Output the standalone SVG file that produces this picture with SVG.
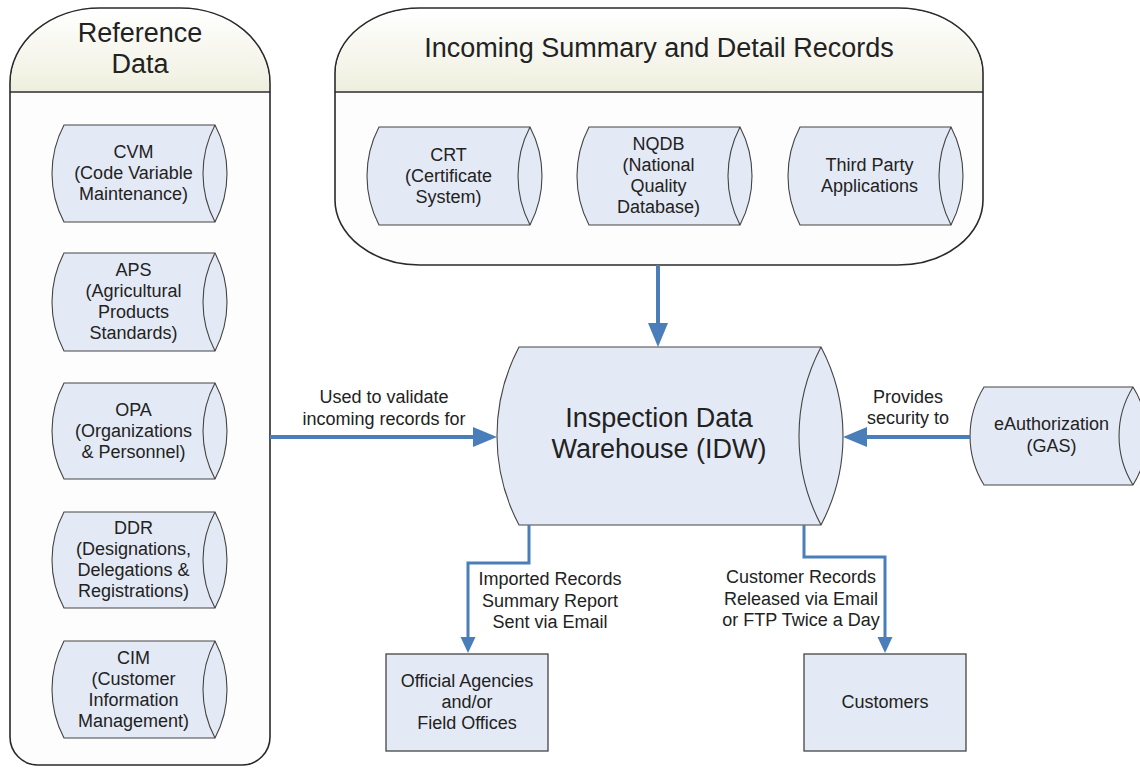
<svg xmlns="http://www.w3.org/2000/svg" width="1140" height="770" viewBox="0 0 1140 770">
<defs>
<linearGradient id="hdr" x1="0" y1="0" x2="0" y2="1">
<stop offset="0" stop-color="#ffffff"/>
<stop offset="1" stop-color="#efefdf"/>
</linearGradient>
<marker id="big" markerUnits="userSpaceOnUse" markerWidth="24" markerHeight="20" refX="12" refY="10" orient="auto">
<path d="M0,0 L24,10 L0,20 Z" fill="#4a7ebb"/>
</marker>
<marker id="small" markerUnits="userSpaceOnUse" markerWidth="16" markerHeight="16" refX="8" refY="8" orient="auto">
<path d="M0,0.5 L16,8 L0,15.5 Z" fill="#4a7ebb"/>
</marker>
</defs>
<style>
.cont{fill:#fdfdfd;stroke:#2a2a2a;stroke-width:1.6}
.hdr{fill:url(#hdr);stroke:none}
.div{stroke:#2a2a2a;stroke-width:1.6}
.cyl{fill:#e4eaf5;stroke:#444;stroke-width:1.1}
.inner{fill:none;stroke:#444;stroke-width:1.1}
.box{fill:#e4eaf5;stroke:#444;stroke-width:1.3}
text{font-family:"Liberation Sans",Arial,sans-serif;fill:#222;text-anchor:middle}
.t{font-size:18px}
.title{font-size:27px}
.main{fill:none;stroke:#4a7ebb;stroke-width:4}
.sub{fill:none;stroke:#4a7ebb;stroke-width:3}
</style>

<g id="reference-data">
<path class="cont" d="M10,92 V83 A90,75 0 0 1 100,8 H180 A90,75 0 0 1 270,83 V737 A28,28 0 0 1 242,765 H38 A28,28 0 0 1 10,737 Z"/>
<path class="hdr" d="M11,91 V83 A89,74 0 0 1 100,9 H180 A89,74 0 0 1 269,83 V91 Z"/>
<line class="div" x1="10" y1="92" x2="270" y2="92"/>
<text class="title" x="140" y="42">Reference</text>
<text class="title" x="140" y="73">Data</text>
</g>

<g id="incoming">
<path class="cont" d="M335,73 A85,65 0 0 1 420,8 H898 A85,65 0 0 1 983,73 V200 A85,65 0 0 1 898,265 H420 A85,65 0 0 1 335,200 Z"/>
<path class="hdr" d="M336,91 V73 A84,64 0 0 1 420,9 H898 A84,64 0 0 1 982,73 V91 Z"/>
<line class="div" x1="335" y1="92" x2="983" y2="92"/>
<text class="title" x="659" y="57">Incoming Summary and Detail Records</text>
</g>

<g id="cvm">
<path class="cyl" d="M64,125 H215 A104,104 0 0 1 215,222 H64 A104,104 0 0 1 64,125 Z"/>
<path class="inner" d="M215,125 A104,104 0 0 0 215,222"/>
<text class="t" x="133.5" y="158">CVM</text>
<text class="t" x="133.5" y="179">(Code Variable</text>
<text class="t" x="133.5" y="200">Maintenance)</text>
</g>

<g id="aps">
<path class="cyl" d="M64,253 H215 A106,106 0 0 1 215,351 H64 A106,106 0 0 1 64,253 Z"/>
<path class="inner" d="M215,253 A106,106 0 0 0 215,351"/>
<text class="t" x="133.5" y="276">APS</text>
<text class="t" x="133.5" y="297">(Agricultural</text>
<text class="t" x="133.5" y="318">Products</text>
<text class="t" x="133.5" y="339">Standards)</text>
</g>

<g id="opa">
<path class="cyl" d="M64,383 H215 A102,102 0 0 1 215,479 H64 A102,102 0 0 1 64,383 Z"/>
<path class="inner" d="M215,383 A102,102 0 0 0 215,479"/>
<text class="t" x="133.5" y="416">OPA</text>
<text class="t" x="133.5" y="437">(Organizations</text>
<text class="t" x="133.5" y="458">&amp; Personnel)</text>
</g>

<g id="ddr">
<path class="cyl" d="M64,512 H215 A102,102 0 0 1 215,608 H64 A102,102 0 0 1 64,512 Z"/>
<path class="inner" d="M215,512 A102,102 0 0 0 215,608"/>
<text class="t" x="133.5" y="534">DDR</text>
<text class="t" x="133.5" y="555">(Designations,</text>
<text class="t" x="133.5" y="576">Delegations &amp;</text>
<text class="t" x="133.5" y="597">Registrations)</text>
</g>

<g id="cim">
<path class="cyl" d="M64,641 H215 A104,104 0 0 1 215,738 H64 A104,104 0 0 1 64,641 Z"/>
<path class="inner" d="M215,641 A104,104 0 0 0 215,738"/>
<text class="t" x="133.5" y="664">CIM</text>
<text class="t" x="133.5" y="685">(Customer</text>
<text class="t" x="133.5" y="706">Information</text>
<text class="t" x="133.5" y="727">Management)</text>
</g>

<g id="crt">
<path class="cyl" d="M379,127 H530 A106,106 0 0 1 530,225 H379 A106,106 0 0 1 379,127 Z"/>
<path class="inner" d="M530,127 A106,106 0 0 0 530,225"/>
<text class="t" x="448.5" y="161">CRT</text>
<text class="t" x="448.5" y="182">(Certificate</text>
<text class="t" x="448.5" y="203">System)</text>
</g>

<g id="nqdb">
<path class="cyl" d="M589,127 H740 A106,106 0 0 1 740,225 H589 A106,106 0 0 1 589,127 Z"/>
<path class="inner" d="M740,127 A106,106 0 0 0 740,225"/>
<text class="t" x="658.5" y="150">NQDB</text>
<text class="t" x="658.5" y="171">(National</text>
<text class="t" x="658.5" y="192">Quality</text>
<text class="t" x="658.5" y="213">Database)</text>
</g>

<g id="third-party">
<path class="cyl" d="M800,127 H951 A106,106 0 0 1 951,225 H800 A106,106 0 0 1 800,127 Z"/>
<path class="inner" d="M951,127 A106,106 0 0 0 951,225"/>
<text class="t" x="869.5" y="171">Third Party</text>
<text class="t" x="869.5" y="192">Applications</text>
</g>

<g id="idw">
<path class="cyl" d="M519,347 H821 A191,191 0 0 1 821,525 H519 A191,191 0 0 1 519,347 Z"/>
<path class="inner" d="M821,347 A191,191 0 0 0 821,525"/>
<text class="title" x="659" y="427">Inspection Data</text>
<text class="title" x="659" y="458">Warehouse (IDW)</text>
</g>

<g id="eauth">
<path class="cyl" d="M984,387 H1133 A93,93 0 0 1 1133,485 H984 A93,93 0 0 1 984,387 Z"/>
<path class="inner" d="M1133,387 A93,93 0 0 0 1133,485"/>
<text class="t" x="1051.5" y="430">eAuthorization</text>
<text class="t" x="1051.5" y="452">(GAS)</text>
</g>

<g id="official">
<rect class="box" x="386" y="654" width="162" height="97"/>
<text class="t" x="467" y="687">Official Agencies</text>
<text class="t" x="467" y="708">and/or</text>
<text class="t" x="467" y="729">Field Offices</text>
</g>

<g id="customers">
<rect class="box" x="804" y="654" width="162" height="97"/>
<text class="t" x="885" y="708">Customers</text>
</g>

<g id="connectors">
<path class="main" d="M658,265 V335" marker-end="url(#big)"/>
<path class="main" d="M270,437 H485" marker-end="url(#big)"/>
<path class="main" d="M970,437 H855" marker-end="url(#big)"/>
<path class="sub" d="M529,525 V563 H468 V645" marker-end="url(#small)"/>
<path class="sub" d="M804,525 V557 H885 V645" marker-end="url(#small)"/>
<text class="t" x="384" y="403">Used to validate</text>
<text class="t" x="384" y="425">incoming records for</text>
<text class="t" x="908" y="403">Provides</text>
<text class="t" x="908" y="424">security to</text>
<text class="t" x="550" y="585">Imported Records</text>
<text class="t" x="550" y="607">Summary Report</text>
<text class="t" x="550" y="628">Sent via Email</text>
<text class="t" x="801" y="583">Customer Records</text>
<text class="t" x="801" y="605">Released via Email</text>
<text class="t" x="801" y="626">or FTP Twice a Day</text>
</g>
</svg>
